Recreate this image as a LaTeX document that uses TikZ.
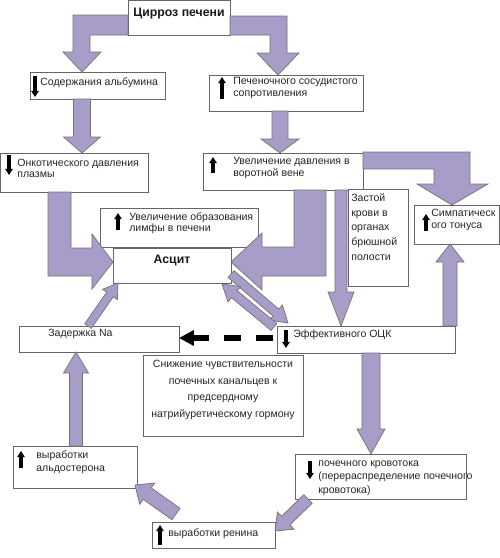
\documentclass[tikz,border=0pt]{standalone}
\usepackage{fontspec}
\setmainfont{Liberation Sans}
\usetikzlibrary{calc,arrows.meta}
\definecolor{lav}{RGB}{168,156,200}

% box from its corners: name, x1, y1, x2, y2 (pixels)
\newcommand{\mkbox}[5]{\node[box, minimum width={(#4-#2)*0.02cm}, minimum height={(#5-#3)*0.02cm}] (#1) at (#2,#3) {};}
% block arrow: start, tip, shaft half width, head half width, head length
\newcommand{\blockarrow}[5]{%
  \coordinate (ba) at ($(#2)!#5*0.02cm!(#1)$);
  \draw[blockarr] ($(#1)!#3*0.02cm!90:(#2)$) -- ($(ba)!#3*0.02cm!90:(#2)$)
    -- ($(ba)!#4*0.02cm!90:(#2)$) -- (#2) -- ($(ba)!#4*0.02cm!-90:(#2)$)
    -- ($(ba)!#3*0.02cm!-90:(#2)$) -- ($(#1)!#3*0.02cm!-90:(#2)$) -- cycle;}

\begin{document}
\begin{tikzpicture}[x=0.02cm, y=-0.02cm,
  box/.style={draw=black!60, line width=0.5pt, fill=white, inner sep=0pt, outer sep=0pt, anchor=north west},
  txt/.style={font=\fontsize{6}{6.4}\selectfont, text=black!85, inner sep=0pt, align=left, anchor=west},
  boldtxt/.style={font=\fontsize{7}{8}\selectfont\bfseries, text=black!90, inner sep=0pt},
  blockarr/.style={fill=lav, draw=black!55, line width=0.4pt, line join=miter},
  sign/.style={line width=2.2pt, -{Triangle[width=4.2pt,length=3.5pt]}},
  dasharr/.style={line width=0.12cm, dash pattern=on 0.34cm off 0.3cm, dash phase=0.56cm, -{Triangle[width=0.3cm,length=0.3cm]}}]

  \fill[white] (0,0) rectangle (500,558);
  \useasboundingbox (0,0) rectangle (500,558);

  % Boxes
  \mkbox{cirr}{128}{0.5}{230}{35}
  \mkbox{alb}{30}{72}{165}{99}
  \mkbox{resist}{209}{75}{363}{111}
  \mkbox{onc}{0.5}{153}{148}{192}
  \mkbox{portal}{203}{153}{363}{190}
  \mkbox{lymph}{100}{208}{258}{247}
  \mkbox{ascit}{113}{248}{231}{283}
  \mkbox{stasis}{348}{189}{408}{286}
  \mkbox{symp}{414}{205}{499}{244}
  \mkbox{ock}{277}{326}{455}{353}
  \mkbox{sodium}{19}{326}{179}{352}
  \mkbox{anp}{143}{355}{303}{436}
  \mkbox{aldo}{13}{446}{137}{488}
  \mkbox{renal}{295}{454}{466}{499}
  \mkbox{renin}{152}{522}{275}{548}

  % Bent arrows
  \draw[blockarr] (cirr.west |- 0,15) -- (73,15) -- (73,52) -- (63,52) -- (alb.north -| 82,0)
    -- (101,52) -- (90,52) -- (90,35) -- (cirr.west |- 0,35) -- cycle;
  \draw[blockarr] (cirr.east |- 0,16) -- (287,16) -- (287,53) -- (299,53) -- (resist.north -| 278,0)
    -- (257,53) -- (270,53) -- (270,35) -- (cirr.east |- 0,35) -- cycle;
  \draw[blockarr] (onc.south -| 48,0) -- (48,276) -- (92,276) -- (92,289) -- (ascit.west |- 0,262)
    -- (92,234) -- (92,248) -- (71,248) -- (onc.south -| 71,0) -- cycle;
  \draw[blockarr] (portal.south -| 294,0) -- (294,247) -- (262,247) -- (262,233) -- (ascit.east |- 0,262)
    -- (262,290) -- (262,276) -- (326,276) -- (portal.south -| 326,0) -- cycle;
  \draw[blockarr] (portal.east |- 0,152) -- (470,152) -- (470,184) -- (488,184) -- (symp.north -| 452,0)
    -- (417,184) -- (434,184) -- (434,169) -- (portal.east |- 0,169) -- cycle;

  % Straight arrows
  \coordinate (b0) at (alb.south -| 82,0);     \coordinate (b1) at (onc.north -| 82,0);
  \coordinate (c0) at (resist.south -| 280,0); \coordinate (c1) at (portal.north -| 280,0);
  \coordinate (g0) at (portal.south -| 341,0); \coordinate (g1) at (ock.north -| 341,0);
  \coordinate (h0) at (ock.north -| 450,0);    \coordinate (h1) at (symp.south -| 450,0);
  \coordinate (i0) at (ock.south -| 371,0);    \coordinate (i1) at (renal.north -| 371,0);
  \coordinate (l0) at (aldo.north -| 76,0);    \coordinate (l1) at (sodium.south -| 76,0);
  \coordinate (m0) at (sodium.north -| 88,0);  \coordinate (m1) at (ascit.south -| 118,0);
  \coordinate (n0) at ($(ascit.east |- 0,274)$); \coordinate (n1) at ($(ock.north west)+(11,-3)$);
  \coordinate (p0) at ($(ock.north west)+(-3,1)$); \coordinate (p1) at ($(ascit.south east)+(-9,1)$);
  \coordinate (j0) at (renal.south -| 308,0);  \coordinate (j1) at (renin.east |- 0,531);
  \coordinate (k0) at ($(renin.north -| 176,0)+(0,-8)$); \coordinate (k1) at ($(aldo.south east)+(-2,-3)$);

  \blockarrow{b0}{b1}{8.5}{18.5}{16}
  \blockarrow{c0}{c1}{8}{19}{14}
  \blockarrow{g0}{g1}{6}{13}{34}
  \blockarrow{h0}{h1}{7}{14}{18}
  \blockarrow{i0}{i1}{9}{14}{25}
  \blockarrow{l0}{l1}{6.5}{12.5}{21}
  \blockarrow{m0}{m1}{4}{9}{14}
  \blockarrow{n0}{n1}{4.5}{10}{16}
  \blockarrow{p0}{p1}{4.5}{10}{16}
  \blockarrow{j0}{j1}{6}{12}{15}
  \blockarrow{k0}{k1}{7}{13}{15}

  % Dashed arrow
  \draw[dasharr] (ock.west |- 0,338) -- (sodium.east |- 0,338);

  % Texts
  \node[boldtxt] (cirr-t) at (179,14) {Цирроз печени};
  \node[boldtxt] (ascit-t) at (172,260) {Асцит};

  \draw[sign] (35,76) -- (35,97);
  \node[txt] (alb-t) at (40,83) {Содержания альбумина};

  \draw[sign] (222,99) -- (222,77);
  \node[txt] (resist-t) at (233,88) {Печеночного сосудистого\\сопротивления};

  \draw[sign] (9,155) -- (9,175);
  \node[txt] (onc-t) at (17,168) {Онкотического давления\\плазмы};

  \draw[sign] (213,173) -- (213,157);
  \node[txt] (portal-t) at (233,168) {Увеличение давления в\\воротной вене};

  \draw[sign] (118,230) -- (118,213);
  \node[txt] (lymph-t) at (129,223) {Увеличение образования\\лимфы в печени};

  \node[txt, font=\fontsize{6}{8.4}\selectfont] (stasis-t) at (351,227) {Застой\\крови в\\органах\\брюшной\\полости};

  \draw[sign] (426,231) -- (426,214);
  \node[txt] (symp-t) at (431,220) {Симпатическ\\ого тонуса};

  \draw[sign] (286,330) -- (286,348);
  \node[txt] (ock-t) at (293,335) {Эффективного ОЦК};

  \node[txt] (sodium-t) at (48,334) {Задержка Na};

  \node[txt, align=center, anchor=center, font=\fontsize{6}{9.4}\selectfont] (anp-t) at (223,390)
    {Снижение чувствительности\\почечных канальцев к\\предсердному\\натрийуретическому гормону};

  \draw[sign] (21,468) -- (21,451);
  \node[txt, font=\fontsize{6}{7.4}\selectfont] (aldo-t) at (36,462) {выработки\\альдостерона};

  \draw[sign] (310,461) -- (310,479);
  \node[txt, font=\fontsize{6}{7.7}\selectfont] (renal-t) at (318,478)
    {почечного кровотока\\(перераспределение почечного\\кровотока)};

  \draw[sign] (160,545) -- (160,525);
  \node[txt] (renin-t) at (168,534) {выработки ренина};
\end{tikzpicture}
\end{document}
